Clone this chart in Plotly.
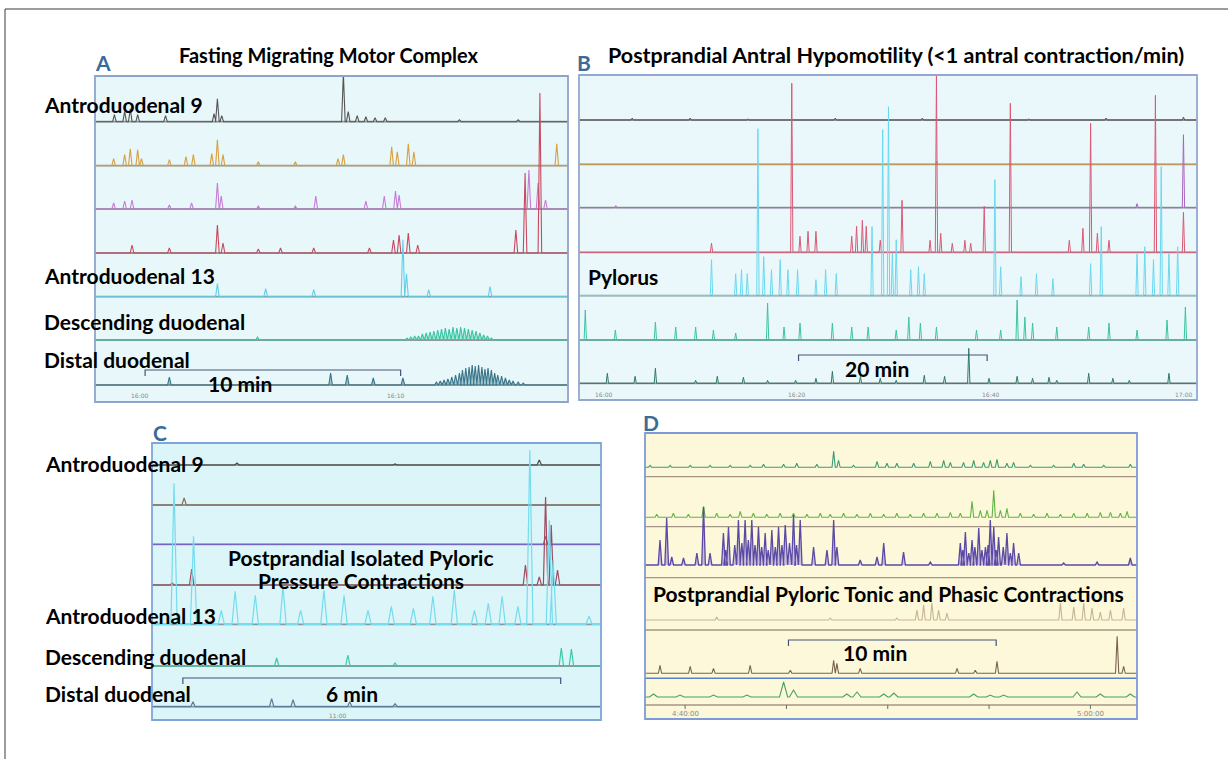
import plotly.graph_objects as go

W, H = 1228, 759

# ======================= DATA =======================
# Panel A – Fasting migrating motor complex. Time: minutes after the 16:00 mark.
A_ad9_t = [-1.0, -0.6, -0.38, -0.09, 1.0, 2.9, 3.03, 3.2, 7.96, 8.15, 8.5, 8.84, 9.2, 9.6, 12.5, 14.8]
A_ad9_a = [7, 10, 13, 7, 6, 8, 23, 6, 48, 10, 6, 5, 4, 4, 2, 2]
A_ch2_t = [-1.03, -0.6, -0.38, -0.09, 0.06, 1.15, 1.8, 2.09, 2.81, 3.03, 3.25, 4.63, 6.08, 7.75, 7.96, 9.85, 10.07, 10.5, 10.72, 16.31]
A_ch2_a = [7, 11, 17, 16, 7, 6, 9, 11, 12, 26, 11, 4, 4, 7, 11, 19, 14, 22, 14, 22]
A_ch3_t = [-1.03, -0.6, -0.31, 1.15, 2.02, 3.03, 3.18, 4.63, 6.08, 6.88, 8.84, 9.56, 10.0, 10.14, 15.22, 15.58, 15.87]
A_ch3_a = [6, 8, 9, 4, 6, 26, 13, 3, 3, 13, 8, 13, 18, 14, 39, 26, 9]
A_ch4_t = [-0.31, 1.15, 3.03, 3.25, 4.63, 5.5, 6.8, 8.98, 9.92, 10.14, 10.5, 10.87, 14.71, 15.07, 15.65]
A_ch4_a = [8, 5, 28, 10, 4, 5, 5, 5, 13, 18, 20, 8, 23, 80, 160]
A_ad13_t = [3.03, 4.92, 6.8, 10.29, 10.43, 11.3, 13.7]
A_ad13_a = [13, 8, 7, 57, 23, 7, 10]
A_desc_t = [4.6, 10.45, 10.6, 10.75, 10.9, 11.05, 11.2, 11.35, 11.5, 11.65, 11.8, 11.95, 12.1, 12.25,
            12.4, 12.55, 12.7, 12.85, 13.0, 13.15, 13.3, 13.45, 13.6, 13.75]
A_desc_a = [3, 2, 3, 4, 4, 6, 7, 8, 9, 10, 11, 12, 11, 13, 12, 13, 12, 11, 10, 9, 7, 5, 4, 2]
A_dist_t = [1.15, 7.46, 8.11, 9.13, 10.29, 11.6, 11.75, 11.9, 12.05, 12.2, 12.35, 12.5, 12.62, 12.75,
            12.88, 13.0, 13.12, 13.25, 13.38, 13.5, 13.62, 13.75, 13.88, 14.0, 14.15, 14.3, 14.45, 14.6, 14.8, 15.0]
A_dist_a = [8, 12, 10, 7, 7, 3, 4, 5, 6, 8, 10, 12, 15, 17, 18, 20, 19, 20, 18, 16, 17, 15, 12, 10, 9, 7, 5, 4, 3, 2]
A_time_ticks = [0, 10]
A_time_labels = ["16:00", "16:10"]
A_scale_bar = [0.2, 10.2]          # "10 min"

# Panel B – Postprandial antral hypomotility. Time: minutes after first time mark.
B_ad9_t = [3.0, 9.0, 15.0, 24.0, 33.0, 44.0, 52.0, 60.0]
B_ad9_a = [2, 2, 1, 2, 2, 1, 2, 3]
B_ch2_t = [34.5, 57.1]
B_ch2_a = [3, 2]
B_ch3_t = [1.3, 55.2, 60.0]
B_ch3_a = [2, 4, 73]
B_ch4_t = [11.2, 19.5, 20.35, 21.18, 22.0, 25.7, 26.2, 26.8, 27.2, 28.65, 30.9, 33.8, 34.46, 34.9, 36.1,
           37.4, 38.0, 39.4, 42.1, 48.2, 49.6, 50.4, 51.1, 52.3, 57.1, 60.0]
B_ch4_a = [9, 169, 16, 21, 21, 16, 26, 32, 26, 12, 52, 12, 177, 19, 9, 12, 9, 46, 149, 12, 24, 129, 19, 12, 157, 40]
B_pyl_t = [11.2, 13.7, 14.3, 14.9, 16.0, 16.6, 17.4, 18.3, 19.1, 20.1, 22.0, 23.0, 24.1, 27.8, 28.9, 29.5,
           29.9, 30.3, 31.8, 32.6, 33.2, 40.5, 41.1, 43.2, 44.8, 46.5, 50.4, 51.5, 55.2, 56.0, 56.9, 57.7, 58.5, 59.4]
B_pyl_a = [36, 22, 26, 22, 167, 39, 26, 36, 26, 26, 16, 26, 22, 69, 166, 189, 42, 56, 26, 29, 22, 116, 29,
           19, 22, 17, 32, 69, 42, 49, 36, 129, 42, 49]
B_desc_t = [-1.85, 1.26, 5.4, 7.5, 9.56, 11.4, 13.7, 17.0, 18.7, 20.35, 23.7, 25.7, 27.4, 30.3, 31.6, 32.8,
            34.46, 38.6, 41.1, 42.8, 43.6, 44.4, 46.9, 50.2, 52.3, 55.2, 58.3, 60.2]
B_desc_a = [30, 10, 18, 13, 13, 10, 7, 37, 13, 17, 17, 13, 13, 10, 23, 17, 13, 10, 10, 40, 23, 17, 13, 13, 17, 10, 20, 33]
B_dist_t = [0.43, 3.3, 5.4, 9.56, 11.8, 14.5, 17.0, 19.9, 22.0, 23.7, 26.6, 28.65, 30.3, 33.2, 35.3, 37.8,
            39.9, 42.8, 44.4, 46.1, 46.9, 50.2, 52.7, 54.4, 58.5]
B_dist_a = [10, 7, 15, 3, 7, 6, 3, 3, 5, 12, 7, 5, 3, 8, 7, 35, 5, 7, 5, 6, 3, 10, 5, 3, 10]
B_time_ticks = [0, 20, 40, 60]
B_time_labels = ["16:00", "16:20", "16:40", "17:00"]
B_scale_bar = [20.2, 39.7]         # "20 min"

# Panel C – Postprandial isolated pyloric pressure contractions. Time: minutes.
C_ad9_t = [1.35, 3.86, 6.15]
C_ad9_a = [2, 1, 5]
C_ch2_t = [0.51]
C_ch2_a = [7]
C_ch3_t = [6.25]
C_ch3_a = [8]
C_ch4_t = [0.32, 0.63, 5.93, 6.15, 6.25, 6.34, 6.44]
C_ch4_a = [2, 16, 20, 8, 88, 60, 15]
C_ad13_t = [0.35, 0.66, 1.1, 1.32, 1.64, 2.08, 2.36, 2.73, 3.05, 3.43, 3.8, 4.15, 4.46, 4.8, 5.12, 5.34,
            5.56, 5.81, 6.0, 6.31, 6.37, 6.94]
C_ad13_a = [141, 88, 14, 33, 29, 38, 14, 34, 29, 14, 18, 16, 28, 34, 14, 21, 28, 18, 174, 104, 64, 8]
C_desc_t = [1.98, 3.11, 3.86, 6.5, 6.66]
C_desc_a = [8, 11, 3, 18, 17]
C_dist_t = [0.65, 1.9, 2.24, 3.14, 3.86]
C_dist_a = [5, 8, 7, 5, 3]
C_time_ticks = [2.94]
C_time_labels = ["11:00"]
C_scale_bar = [0.49, 6.49]         # "6 min"

# Panel D – Postprandial pyloric tonic and phasic contractions. Time: minutes after 4:40:00.
D_r1_t = [-1.73, -0.74, 0.25, 1.23, 2.22, 3.21, 3.87, 4.86, 5.51, 6.5, 7.33, 7.57, 8.31, 9.47, 9.96, 10.45,
          11.28, 12.1, 12.76, 13.09, 13.74, 14.24, 14.73, 15.06, 15.39, 15.88, 16.21, 17.04, 18.19, 19.18,
          19.67, 20.66, 21.97]
D_r1_a = [2, 2, 2, 2, 2, 2, 3, 3, 4, 3, 16, 7, 2, 6, 4, 4, 4, 6, 7, 5, 5, 7, 5, 7, 8, 4, 5, 2, 2, 4, 3, 2, 3]
D_r2_t = [-1.4, -0.58, 0.16, 0.91, 1.56, 2.22, 2.72, 3.37, 4.03, 4.69, 5.35, 6.01, 6.67, 7.16, 7.82, 8.48,
          9.14, 9.8, 10.45, 11.11, 11.77, 12.43, 13.09, 13.58, 14.16, 14.57, 14.9, 15.23, 15.56, 15.88,
          16.54, 17.2, 17.86, 18.52, 19.18, 19.84, 20.49, 20.99, 21.48, 21.81]
D_r2_a = [3, 4, 3, 11, 4, 3, 6, 4, 3, 4, 4, 3, 4, 3, 4, 3, 4, 3, 4, 3, 4, 4, 5, 4, 16, 7, 7, 27, 7, 9,
          4, 3, 4, 3, 4, 4, 5, 5, 4, 6]
D_r3_t = [-1.24, -0.91, -0.66, -0.08, 0.58, 0.91, 1.23, 1.89, 2.14, 2.63, 2.96, 3.29, 3.62, 3.95, 4.28,
          4.61, 4.94, 5.35, 5.68, 6.34, 7.0, 7.33, 7.49, 8.64, 9.47, 9.8, 10.78, 12.1, 13.58, 13.83, 14.16,
          14.49, 14.82, 15.06, 15.23, 15.47, 15.88, 16.21, 16.46, 18.68, 20.33, 21.97,
          2.0, 2.45, 2.8, 3.12, 3.45, 3.78, 4.1, 4.45, 4.78, 5.15, 5.5,
          13.7, 14.0, 14.3, 14.65, 14.95, 15.35, 15.7, 16.05]
D_r3_a = [25, 47, 8, 7, 12, 58, 12, 32, 38, 45, 45, 45, 38, 32, 35, 38, 40, 50, 45, 18, 15, 45, 18, 5, 8,
          22, 13, 3, 22, 33, 25, 37, 18, 45, 38, 28, 32, 22, 12, 2, 3, 7,
          15, 20, 22, 25, 20, 18, 15, 18, 20, 22, 20,
          15, 12, 18, 15, 20, 15, 18, 12]
D_r4_t = [1.56, 7.16, 10.45, 11.44, 11.77, 12.18, 12.51, 12.92, 18.52, 19.18, 19.67, 20.08, 20.49, 20.99, 21.64]
D_r4_a = [3, 2, 2, 10, 15, 17, 10, 7, 17, 13, 17, 12, 8, 10, 12]
D_r5_t = [-1.24, 0.25, 1.4, 3.21, 5.19, 7.33, 7.49, 8.64, 13.42, 14.32, 15.39, 21.32, 21.64]
D_r5_a = [8, 7, 5, 8, 3, 13, 10, 5, 5, 3, 12, 37, 7]
D_r6_t = [-1.56, -0.25, 1.4, 3.05, 4.86, 5.35, 7.98, 8.48, 9.8, 10.3, 14.24, 15.06, 15.72, 19.34, 20.49, 21.97]
D_r6_a = [3, 2, 2, 2, 15, 7, 3, 5, 3, 4, 3, 2, 2, 5, 3, 3]
D_time_ticks = [0, 5, 10, 15, 20]
D_time_labels = ["4:40:00", "5:00:00"]
D_scale_bar = [5.1, 15.35]         # "10 min"

# ======================= LAYOUT / STYLE =======================
PANELS = {
    "A": dict(box=(95, 76, 568, 402), xr=(-1.76, 16.75), bg="#e8f7f9", border="#8ea4cb"),
    "B": dict(box=(579, 75, 1197, 400), xr=(-2.5, 61.4), bg="#ebf8fb", border="#92a8d0"),
    "C": dict(box=(152, 443, 601, 720), xr=(0.0, 7.13), bg="#dcf5f9", border="#7fa6d8"),
    "D": dict(box=(645, 433, 1137, 719), xr=(-1.98, 22.3), bg="#fdf8da", border="#7d9bd6"),
}
AX = {"A": 1, "B": 2, "C": 3, "D": 4}

A_base = [45.7, 89.7, 133, 177, 220.7, 264, 309]
B_base = [45, 89.3, 132.7, 177.3, 220.7, 265, 308.3]
C_base = [22, 62, 101.3, 142, 181.3, 223, 263.7]
D_base = [34.3, 84.3, 132, 187, 240.3, 264]
D_separators = [43.7, 93.7, 144.7, 197, 272]
D_blue_sep = 245.3

A_cols = ["#555555", "#d8a040", "#c67bd6", "#c9485e", "#5fd0ea", "#38c4a2", "#3a7488"]
B_cols = ["#555555", "#c99a4a", "#a866bf", "#dc5874", "#6ad8ee", "#3cc49e", "#2f7a62"]
C_cols = ["#4a4a4a", "#8a6c58", "#7464c4", "#a04a60", "#74dcee", "#3cc8aa", "#5a7c9a"]
D_cols = ["#3a9a72", "#60b444", "#5a4aa6", "#c6b494", "#7a6250", "#46a066"]

fig = go.Figure()


def axn(p):
    k = AX[p]
    return ("x" if k == 1 else f"x{k}"), ("y" if k == 1 else f"y{k}")


def spike_xy(times, amps, hw, xr, base):
    pairs = sorted(zip(times, amps))
    xs, ys = [xr[0]], [base]
    for t, a in pairs:
        xs += [t - hw, t, t + hw]
        ys += [base, base - a, base]
    xs.append(xr[1])
    ys.append(base)
    return xs, ys


def add_trace(p, times, amps, base, color, hw, width=1.1, fill=None):
    xa, ya = axn(p)
    xr = PANELS[p]["xr"]
    xs, ys = spike_xy(times, amps, hw, xr, base)
    if fill:
        fig.add_trace(go.Scatter(x=[xr[0], xr[1]], y=[base, base], mode="lines",
                                 line=dict(width=0, color=color), xaxis=xa, yaxis=ya,
                                 hoverinfo="skip", showlegend=False))
    fig.add_trace(go.Scatter(x=xs, y=ys, mode="lines", line=dict(color=color, width=width),
                             fill="tonexty" if fill else None, fillcolor=fill,
                             xaxis=xa, yaxis=ya, hoverinfo="skip", showlegend=False))


# axes
for p, P in PANELS.items():
    k = AX[p]
    x0, y0, x1, y1 = P["box"]
    sfx = "" if k == 1 else str(k)
    fig.update_layout({
        f"xaxis{sfx}": dict(domain=[x0 / W, x1 / W], range=list(P["xr"]), visible=False,
                            anchor=f"y{sfx}", fixedrange=True),
        f"yaxis{sfx}": dict(domain=[1 - y1 / H, 1 - y0 / H], range=[y1 - y0, 0], visible=False,
                            anchor=f"x{sfx}", fixedrange=True),
    })

shapes = []
# outer frame
shapes.append(dict(type="line", xref="paper", yref="paper", x0=5 / W, x1=1.0, y0=1 - 9 / H, y1=1 - 9 / H,
                   line=dict(color="#3a3a3a", width=1)))
shapes.append(dict(type="line", xref="paper", yref="paper", x0=5 / W, x1=5 / W, y0=0, y1=1 - 9 / H,
                   line=dict(color="#3a3a3a", width=1)))

for p, P in PANELS.items():
    x0, y0, x1, y1 = P["box"]
    shapes.append(dict(type="rect", xref="paper", yref="paper", x0=x0 / W, x1=x1 / W,
                       y0=1 - y1 / H, y1=1 - y0 / H, fillcolor=P["bg"], line=dict(width=0), layer="below"))


def base_line(p, y, color="rgba(75,75,75,0.55)", width=1.8):
    xa, ya = axn(p)
    shapes.append(dict(type="line", xref=f"{xa} domain", yref=ya, x0=0, x1=1, y0=y, y1=y,
                       line=dict(color=color, width=width), layer="below"))


for y in A_base:
    base_line("A", y)
for y in B_base:
    base_line("B", y)
for y in C_base:
    base_line("C", y)
for y in D_separators:
    base_line("D", y, color="#a49684", width=1.3)
base_line("D", D_blue_sep, color="#5a80c8", width=1.6)

# D time tick marks
for t in D_time_ticks:
    shapes.append(dict(type="line", xref="x4", yref="y4", x0=t, x1=t, y0=272, y1=276,
                       line=dict(color="#6a6a6a", width=1)))

# ---- traces: panel A
A_series = [(A_ad9_t, A_ad9_a), (A_ch2_t, A_ch2_a), (A_ch3_t, A_ch3_a), (A_ch4_t, A_ch4_a),
            (A_ad13_t, A_ad13_a), (A_desc_t, A_desc_a), (A_dist_t, A_dist_a)]
for i, (t, a) in enumerate(A_series):
    fill = None
    if i == 5:
        fill = "rgba(80,210,180,0.45)"
    if i == 6:
        fill = "rgba(70,140,160,0.45)"
    add_trace("A", t, a, A_base[i], A_cols[i], 0.07, 1.1, fill)

# ---- panel B
B_series = [(B_ad9_t, B_ad9_a), (B_ch2_t, B_ch2_a), (B_ch3_t, B_ch3_a), (B_ch4_t, B_ch4_a),
            (B_pyl_t, B_pyl_a), (B_desc_t, B_desc_a), (B_dist_t, B_dist_a)]
for i, (t, a) in enumerate(B_series):
    add_trace("B", t, a, B_base[i], B_cols[i], 0.12, 1.0)

# ---- panel C
C_series = [(C_ad9_t, C_ad9_a), (C_ch2_t, C_ch2_a), (C_ch3_t, C_ch3_a), (C_ch4_t, C_ch4_a),
            (C_ad13_t, C_ad13_a), (C_desc_t, C_desc_a), (C_dist_t, C_dist_a)]
for i, (t, a) in enumerate(C_series):
    add_trace("C", t, a, C_base[i], C_cols[i], 0.05 if i == 4 else 0.035, 1.2)

# ---- panel D
D_series = [(D_r1_t, D_r1_a), (D_r2_t, D_r2_a), (D_r3_t, D_r3_a), (D_r4_t, D_r4_a),
            (D_r5_t, D_r5_a), (D_r6_t, D_r6_a)]
for i, (t, a) in enumerate(D_series):
    if i == 2:
        add_trace("D", t, a, D_base[i], D_cols[i], 0.09, 1.3, fill="rgba(140,120,210,0.45)")
    else:
        add_trace("D", t, a, D_base[i], D_cols[i], 0.2 if i == 5 else 0.08, 1.1)

# ---- scale bars
for p, bar, yb in [("A", A_scale_bar, 294), ("B", B_scale_bar, 280), ("C", C_scale_bar, 235), ("D", D_scale_bar, 207)]:
    xa, ya = axn(p)
    fig.add_trace(go.Scatter(x=[bar[0], bar[0], bar[1], bar[1]], y=[yb + 6, yb, yb, yb + 6], mode="lines",
                             line=dict(color="#44547a", width=1.2), xaxis=xa, yaxis=ya,
                             hoverinfo="skip", showlegend=False))

# border rectangles above traces
for p, P in PANELS.items():
    x0, y0, x1, y1 = P["box"]
    shapes.append(dict(type="rect", xref="paper", yref="paper", x0=x0 / W, x1=x1 / W,
                       y0=1 - y1 / H, y1=1 - y0 / H, fillcolor="rgba(0,0,0,0)",
                       line=dict(color=P["border"], width=1.8), layer="above"))

fig.update_layout(shapes=shapes)

# ---- text
ann = []
FONT = "Lato"


def txt(s, px, py, size=21, anchor="left", color="black", weight="bold"):
    ann.append(dict(text=s, x=px / W, y=1 - py / H, xref="paper", yref="paper", showarrow=False,
                    xanchor=anchor, yanchor="middle",
                    font=dict(family=FONT, size=size, color=color, weight=weight)))


def time_lbl(p, t, s, py, size=6):
    xa, _ = axn(p)
    ann.append(dict(text=s, x=t, y=1 - py / H, xref=xa, yref="paper", showarrow=False,
                    xanchor="center", yanchor="middle",
                    font=dict(family="DejaVu Sans", size=size, color="#888888")))


LETTER = "#3b6b97"
txt("A", 103, 63, 21, "center", LETTER)
txt("Fasting Migrating Motor Complex", 329, 55, 20, "center")
txt("B", 584, 63, 21, "center", LETTER)
txt("Postprandial Antral Hypomotility (&lt;1 antral contraction/min)", 896, 55, 21.5, "center")
txt("C", 160, 432, 21, "center", LETTER)
txt("D", 651, 422, 21, "center", LETTER)

for s, y in [("Antroduodenal 9", 104), ("Antroduodenal 13", 275), ("Descending duodenal", 321),
             ("Distal duodenal", 360)]:
    txt(s, 42, y)
txt("10 min", 240, 383, 21, "center")
txt("Pylorus", 586, 276)
txt("20 min", 877, 368, 21, "center")

for s, y in [("Antroduodenal 9", 464), ("Antroduodenal 13", 615), ("Descending duodenal", 656),
             ("Distal duodenal", 693)]:
    txt(s, 43, y)
txt("Postprandial Isolated Pyloric", 361, 557, 21, "center")
txt("Pressure Contractions", 361, 580, 21, "center")
txt("6 min", 352, 693, 21, "center")

txt("Postprandial Pyloric Tonic and Phasic Contractions", 888, 593, 21, "center")
txt("10 min", 875, 652, 21, "center")

for t, s in zip(A_time_ticks, A_time_labels):
    time_lbl("A", t, s, 395)
for t, s in zip(B_time_ticks, B_time_labels):
    time_lbl("B", t, s, 394)
for t, s in zip(C_time_ticks, C_time_labels):
    time_lbl("C", t, s, 715)
for t, s in zip([D_time_ticks[0], D_time_ticks[-1]], D_time_labels):
    time_lbl("D", t, s, 714, 7)

fig.update_layout(annotations=ann, width=W, height=H, margin=dict(l=0, r=0, t=0, b=0),
                  paper_bgcolor="white", plot_bgcolor="rgba(0,0,0,0)", showlegend=False,
                  autosize=False)

fig.write_html("out.html", config={"displayModeBar": False, "staticPlot": True},
               post_script="document.body.style.margin='0';document.body.style.overflow='hidden';")
